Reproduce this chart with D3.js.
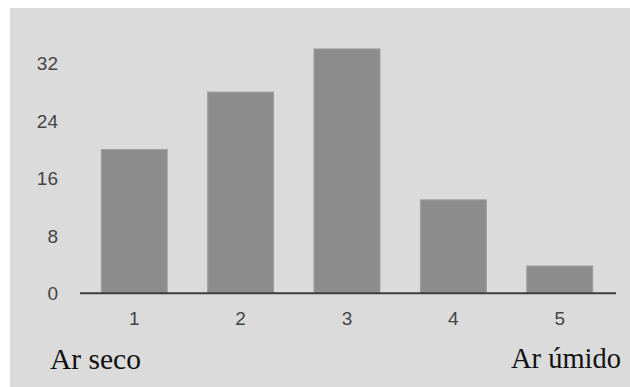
<!DOCTYPE html>
<html><head><meta charset="utf-8">
<script src="https://cdn.jsdelivr.net/npm/d3@7"></script>
<style>html,body{margin:0;padding:0;background:#fff;}svg{display:block;}</style>
</head><body>
<svg id="chart" width="630" height="387"></svg>
<script>
const categories = ["1", "2", "3", "4", "5"];
const values = [20, 28, 34, 13, 3.8];
const yTicks = [0, 8, 16, 24, 32];
const leftLabel = "Ar seco";
const rightLabel = "Ar úmido";

const svg = d3.select("#chart");
svg.append("rect").attr("x", 10).attr("y", 8).attr("width", 620).attr("height", 379).attr("fill", "#dbdbdb");

const x = d3.scaleBand().domain(categories).range([80, 614]).paddingInner(0.38).paddingOuter(0.2);
const y = d3.scaleLinear().domain([0, 32]).range([293.3, 63.3]);

svg.append("g").selectAll("rect").data(values).join("rect")
  .attr("x", (d, i) => x(categories[i]))
  .attr("y", d => y(d))
  .attr("width", x.bandwidth())
  .attr("height", d => y(0) - y(d))
  .attr("fill", "#8c8c8c")
  .attr("stroke", "#9e9e9e")
  .attr("stroke-width", 1);

const yAxis = svg.append("g").attr("transform", "translate(58,0)")
  .call(d3.axisLeft(y).tickValues(yTicks).tickSize(0).tickPadding(0));
yAxis.select(".domain").remove();
yAxis.selectAll("text").attr("font-family", "Liberation Sans, Arial, sans-serif")
  .attr("font-size", 19).attr("fill", "#444").attr("dy", "0.35em");

const xAxis = svg.append("g").attr("transform", "translate(0,293.3)")
  .call(d3.axisBottom(x).tickSize(0).tickPadding(18));
xAxis.select(".domain").remove();
xAxis.selectAll("text").attr("font-family", "Liberation Sans, Arial, sans-serif")
  .attr("font-size", 19).attr("fill", "#444");

svg.append("line").attr("x1", 80).attr("x2", 616).attr("y1", y(0)).attr("y2", y(0))
  .attr("stroke", "#3c3c3c").attr("stroke-width", 2);

svg.append("text").attr("x", 50).attr("y", 369).text(leftLabel)
  .attr("font-family", "Liberation Serif, Times New Roman, serif").attr("font-size", 29.5).attr("fill", "#111");
svg.append("text").attr("x", 621).attr("y", 368).attr("text-anchor", "end").text(rightLabel)
  .attr("font-family", "Liberation Serif, Times New Roman, serif").attr("font-size", 28.5).attr("fill", "#111");
</script>
</body></html>
